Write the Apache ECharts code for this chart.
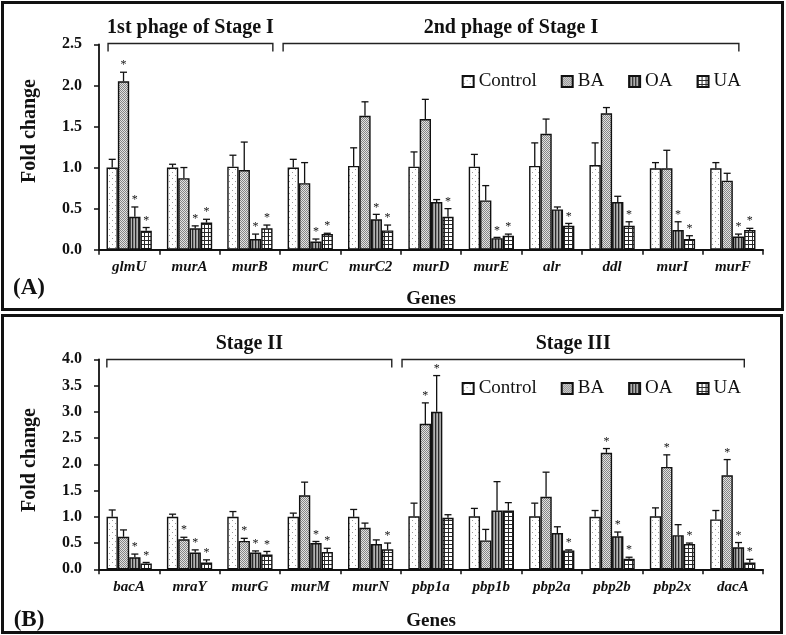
<!DOCTYPE html>
<html><head><meta charset="utf-8">
<script src="https://cdn.jsdelivr.net/npm/echarts@6/dist/echarts.min.js"></script>
<style>html,body{margin:0;padding:0;background:#fff}#c{width:786px;height:635px}</style>
</head><body><div id="c"></div>
<script>
// ---------- Panel A data ----------
const genesA = ['glmU','murA','murB','murC','murC2','murD','murE','alr','ddl','murI','murF'];
const controlA    = [1.00,1.00,1.01,1.00,1.02,1.01,1.01,1.02,1.03,0.99,0.99];
const controlAErr = [0.10,0.04,0.14,0.10,0.22,0.18,0.15,0.28,0.27,0.07,0.07];
const controlASig = [0,0,0,0,0,0,0,0,0,0,0];
const baA    = [2.05,0.87,0.97,0.81,1.63,1.59,0.60,1.41,1.66,0.99,0.84];
const baAErr = [0.11,0.13,0.34,0.25,0.17,0.24,0.18,0.18,0.07,0.22,0.09];
const baASig = [1,0,0,0,0,0,0,0,0,0,0];
const oaA    = [0.40,0.26,0.13,0.10,0.37,0.58,0.14,0.49,0.58,0.24,0.16];
const oaAErr = [0.12,0.03,0.06,0.03,0.06,0.03,0.01,0.03,0.07,0.10,0.03];
const oaASig = [1,1,1,1,1,0,1,0,0,1,1];
const uaA    = [0.23,0.33,0.26,0.19,0.235,0.40,0.17,0.29,0.29,0.13,0.24];
const uaAErr = [0.04,0.04,0.04,0.01,0.065,0.10,0.02,0.03,0.05,0.04,0.02];
const uaASig = [1,1,1,1,1,1,1,1,1,1,1];
const ticksA = [0,0.5,1.0,1.5,2.0,2.5];

// ---------- Panel B data ----------
const genesB = ['bacA','mraY','murG','murM','murN','pbp1a','pbp1b','pbp2a','pbp2b','pbp2x','dacA'];
const controlB    = [1.00,1.00,1.00,1.00,1.00,1.01,1.01,1.01,1.00,1.01,0.95];
const controlBErr = [0.13,0.05,0.10,0.07,0.14,0.25,0.15,0.25,0.12,0.16,0.17];
const controlBSig = [0,0,0,0,0,0,0,0,0,0,0];
const baB    = [0.62,0.57,0.54,1.41,0.79,2.77,0.55,1.38,2.22,1.95,1.79];
const baBErr = [0.13,0.04,0.05,0.25,0.09,0.40,0.21,0.47,0.08,0.23,0.30];
const baBSig = [0,1,1,0,0,1,0,0,1,1,1];
const oaB    = [0.23,0.32,0.32,0.50,0.48,3.00,1.12,0.69,0.63,0.65,0.42];
const oaBErr = [0.06,0.05,0.03,0.03,0.08,0.69,0.55,0.12,0.08,0.20,0.09];
const oaBSig = [1,1,1,1,0,1,0,0,1,0,1];
const uaB    = [0.11,0.13,0.28,0.33,0.38,0.98,1.12,0.36,0.20,0.48,0.13];
const uaBErr = [0.02,0.05,0.06,0.07,0.12,0.06,0.15,0.01,0.03,0.02,0.06];
const uaBSig = [1,1,1,1,1,0,0,1,1,1,1];
const ticksB = [0,0.5,1.0,1.5,2.0,2.5,3.0,3.5,4.0];

const groupNames = ['Control','BA','OA','UA'];

// ---------- patterns ----------
function pat(w,h,draw){const c=document.createElement('canvas');c.width=w;c.height=h;const g=c.getContext('2d');draw(g);return {image:c,repeat:'repeat'};}
const patterns = [
  pat(6,6,g=>{g.fillStyle='#fff';g.fillRect(0,0,6,6);g.fillStyle='#9a9a9a';g.fillRect(1,1,1,1);g.fillRect(4,4,1,1);}),
  pat(2,2,g=>{g.fillStyle='#e2e2e2';g.fillRect(0,0,2,2);g.fillStyle='#858585';g.fillRect(0,0,1,1);g.fillRect(1,1,1,1);}),
  pat(3,1,g=>{g.fillStyle='#2a2a2a';g.fillRect(0,0,1,1);g.fillStyle='#8c8c8c';g.fillRect(1,0,1,1);g.fillStyle='#b4b4b4';g.fillRect(2,0,1,1);}),
  pat(4,4,g=>{g.fillStyle='#fff';g.fillRect(0,0,4,4);g.fillStyle='#2a2a2a';g.fillRect(0,0,4,1);g.fillRect(0,0,1,4);})
];

const FONT = 'Liberation Serif';
const chart = echarts.init(document.getElementById('c'));

function barSeries(ax, k, vals){
  return {name:groupNames[k], type:'bar', xAxisIndex:ax, yAxisIndex:ax, data:vals,
    barGap:'0%', barCategoryGap:'25%',
    itemStyle:{color:patterns[k], borderColor:'#111', borderWidth:1.4}, z:2};
}
function errSeries(ax, k, vals, errs, sigs){
  return {type:'custom', name:'err'+ax+k, xAxisIndex:ax, yAxisIndex:ax, z:5, silent:true,
    data: vals.map((v,i)=>[i, v, v+errs[i], sigs[i]]),
    encode:{x:0, y:[1,2]},
    renderItem(params, api){
      const i = api.value(0);
      const base = api.coord([i, api.value(1)]);
      const top = api.coord([i, api.value(2)]);
      const bw = api.size([1,0])[0];
      const barW = bw*0.75/4;
      const x = base[0] - bw*0.375 + barW*(k+0.5);
      const st = {stroke:'#111', lineWidth:1.3};
      const ch = [
        {type:'line', shape:{x1:x,y1:base[1],x2:x,y2:top[1]}, style:st},
        {type:'line', shape:{x1:x-3.5,y1:top[1],x2:x+3.5,y2:top[1]}, style:st}
      ];
      if (api.value(3)) ch.push({type:'text', x:x, y:top[1]-1,
        style:{text:'*', fontSize:12, fontFamily:FONT, fill:'#111', align:'center', verticalAlign:'bottom'}});
      return {type:'group', children:ch};
    }};
}

const axisLine = {show:true, lineStyle:{color:'#111', width:1.8}};
function xAx(idx, cats){
  return {type:'category', gridIndex:idx, data:cats, axisLine,
    axisTick:{show:true, length:5, lineStyle:{color:'#111', width:1.5}},
    axisLabel:{fontFamily:FONT, fontSize:15, fontStyle:'italic', fontWeight:'bold', color:'#111', margin:10},
    name:'Genes', nameLocation:'middle', nameGap: idx===0?40:42,
    nameTextStyle:{fontFamily:FONT, fontSize:19, fontWeight:'bold', color:'#111'}};
}
function yAx(idx, ticks){
  return {type:'value', gridIndex:idx, min:ticks[0], max:ticks[ticks.length-1], interval:ticks[1]-ticks[0],
    axisLine, splitLine:{show:false},
    axisTick:{show:true, length:5, lineStyle:{color:'#111', width:1.5}},
    axisLabel:{fontFamily:FONT, fontSize:16, fontWeight:'bold', color:'#111', margin:17,
      formatter:v=>v.toFixed(1)}};
}
const legendBase = {data:groupNames, icon:'rect', itemWidth:11, itemHeight:11, itemGap:24, padding:0,
  textStyle:{fontFamily:FONT, fontSize:19, color:'#111'}, selectedMode:false, right:45};

chart.setOption({
  animation:false,
  grid:[
    {left:99, top:44.3, width:664, height:205.4},
    {left:99, top:359.3, width:664, height:210}
  ],
  xAxis:[xAx(0, genesA), xAx(1, genesB)],
  yAxis:[yAx(0, ticksA), yAx(1, ticksB)],
  legend:[Object.assign({top:72}, legendBase), Object.assign({top:379}, legendBase)],
  series:[
    barSeries(0,0,controlA), barSeries(0,1,baA), barSeries(0,2,oaA), barSeries(0,3,uaA),
    barSeries(1,0,controlB), barSeries(1,1,baB), barSeries(1,2,oaB), barSeries(1,3,uaB),
    errSeries(0,0,controlA,controlAErr,controlASig), errSeries(0,1,baA,baAErr,baASig),
    errSeries(0,2,oaA,oaAErr,oaASig), errSeries(0,3,uaA,uaAErr,uaASig),
    errSeries(1,0,controlB,controlBErr,controlBSig), errSeries(1,1,baB,baBErr,baBSig),
    errSeries(1,2,oaB,oaBErr,oaBSig), errSeries(1,3,uaB,uaBErr,uaBSig)
  ]
});

// ---------- annotations: frames, brackets, panel labels ----------
function bracket(ax, u0, u1, label, yLine){
  const c0 = chart.convertToPixel({xAxisIndex:ax}, 0);
  const c1 = chart.convertToPixel({xAxisIndex:ax}, 1);
  const bw = c1 - c0, left = c0 - bw/2;
  const x0 = left + u0*bw, x1 = left + u1*bw;
  return [
    {type:'polyline', shape:{points:[[x0,yLine+8],[x0,yLine],[x1,yLine],[x1,yLine+8]]},
      style:{stroke:'#222', lineWidth:1.4, fill:null}},
    {type:'text', x:(x0+x1)/2, y:yLine-16, style:{text:label, fontFamily:FONT, fontSize:20, fontWeight:'bold',
      fill:'#111', align:'center', verticalAlign:'middle'}}
  ];
}
const txt = (x,y,t,size,rot)=>({type:'text', x, y, rotation:rot||0,
  style:{text:t, fontFamily:FONT, fontSize:size, fontWeight:'bold', fill:'#111', align:'center', verticalAlign:'middle'}});

chart.setOption({graphic:[
  {type:'rect', shape:{x:2.5,y:2.5,width:780,height:307}, style:{stroke:'#111', lineWidth:3, fill:null}},
  {type:'rect', shape:{x:2.5,y:315.5,width:779,height:317}, style:{stroke:'#111', lineWidth:3, fill:null}},
  txt(29,288,'(A)',23), txt(29,620,'(B)',23),
  txt(30,131,'Fold change',20,Math.PI/2), txt(30,460,'Fold change',20,Math.PI/2),
  ...bracket(0, 0.15, 2.88, '1st phage of Stage I', 43.5),
  ...bracket(0, 3.05, 10.6, '2nd phage of Stage I', 43.5),
  ...bracket(1, 0.13, 4.85, 'Stage II', 359.5),
  ...bracket(1, 5.02, 10.69, 'Stage III', 359.5)
]});
</script>
</body></html>
